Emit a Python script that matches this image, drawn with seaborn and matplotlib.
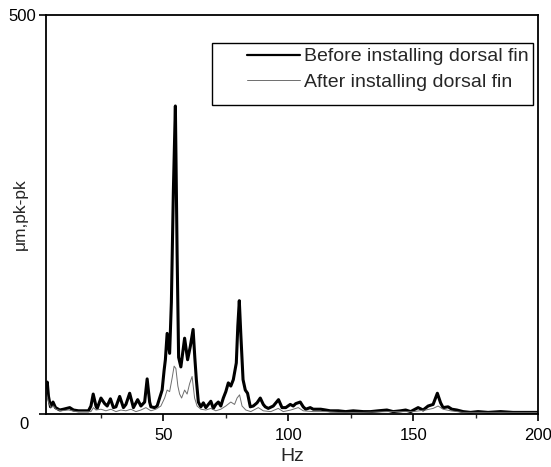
import numpy as np
import pandas as pd
import matplotlib
matplotlib.use("Agg")
import matplotlib.pyplot as plt
import seaborn as sns
from matplotlib.ticker import MultipleLocator
from matplotlib.patches import Rectangle
import matplotlib.transforms as mtransforms

# ---- data ----
freq_before = [3.0, 3.5, 4.0, 4.8, 5.8, 6.8, 8.5, 10, 12.5, 14, 16, 18, 20, 21, 21.9, 23.0, 23.5,
               25, 26.5, 27.5, 28.8, 30, 31, 32.5, 34, 35, 36.5, 38, 39.7, 41, 42.5, 43.5, 44.5,
               45, 46.5, 47.5, 48.5, 49.5, 50.3, 50.8, 51.5, 52.5, 53.2, 54, 54.8, 55.5, 56.1,
               57, 58.5, 59.7, 60.8, 61.9, 62.6, 63.2, 64, 65, 66, 67, 68, 69, 70, 71, 72, 73,
               74, 75, 76, 77, 78, 79.2, 79.8, 80.4, 81.0, 81.9, 82.8, 83.7, 84.8, 86, 87.5,
               88.8, 90, 90.8, 92, 94, 96.1, 97.5, 99, 100.8, 102, 103, 104.8, 106, 107, 108.8,
               110, 113, 115, 116.8, 120, 123, 126, 130, 133, 136, 139.5, 142, 145, 147, 149,
               152, 154, 156, 158, 159.7, 161, 162, 164, 165.5, 167.5, 170, 173, 176, 180, 185,
               190, 195, 200]
amp_before = [34, 40, 22, 9, 15, 8, 5, 6, 8, 5, 4, 4, 4, 10, 25, 10, 7,
              20, 13, 10, 19, 8, 9, 22, 8, 12, 26, 8, 18, 10, 15, 44, 15,
              9, 8, 10, 20, 30, 55, 68, 101, 76, 140, 280, 386, 200, 71,
              59, 95, 68, 85, 106, 70, 43, 15, 9, 14, 8, 12, 16, 7, 12, 15, 10,
              20, 28, 39, 35, 43, 64, 110, 142, 100, 43, 30, 26, 9, 10, 14,
              20, 12, 9, 7, 10, 18, 8, 8, 12, 10, 13, 15, 9, 6, 8,
              6, 6, 5, 4, 4, 3, 4, 3, 3, 4, 5, 3, 4, 5, 3,
              8, 5, 10, 12, 26, 14, 8, 9, 6, 5, 3, 2, 3, 2, 3,
              2, 2, 2]

freq_after = [3, 4, 5, 6, 7, 9, 12, 15, 18, 21, 22, 23, 25, 27, 29, 31, 33, 35, 37, 39, 41, 43,
              45, 47, 49, 50.5, 51.5, 52.5, 53.5, 54.3, 55, 55.8, 56.5, 57.3, 58.5, 59.5, 60.5,
              61.5, 62.5, 63.5, 65, 67, 69, 71, 73, 75, 77, 78.5, 79.5, 80.5, 81.5, 83, 85, 88,
              90, 93, 96, 98, 101, 104, 106, 110, 115, 120, 130, 140, 150, 155, 158, 160, 162,
              165, 170, 180, 190, 200]
amp_after = [28, 15, 8, 10, 6, 4, 5, 3, 3, 3, 8, 5, 6, 4, 6, 3, 5, 4, 6, 3, 5, 8,
             4, 6, 10, 20, 30, 28, 45, 60, 57, 35, 25, 20, 30, 25, 38,
             47, 20, 10, 6, 5, 7, 4, 6, 10, 15, 12, 20, 24, 10, 5, 3, 8,
             4, 3, 7, 3, 5, 8, 4, 3, 3, 2, 2, 3, 3, 5, 7, 10, 6,
             4, 2, 2, 2, 2]

series_labels = ["Before installing dorsal fin", "After installing dorsal fin"]
x_label = "Hz"
y_label = "\u03bcm,pk-pk"

# ---- style ----
sns.set_style("ticks")
plt.rcParams["font.family"] = ["Liberation Sans", "DejaVu Sans"]
plt.rcParams["axes.linewidth"] = 1.3

fig = plt.figure(figsize=(5.51, 4.67), dpi=100)
ax = fig.add_axes([46 / 551, 1 - 414 / 467, (538 - 46) / 551, (414 - 15) / 467])

df_before = pd.DataFrame({"Hz": freq_before, "amp": amp_before})
df_after = pd.DataFrame({"Hz": freq_after, "amp": amp_after})

sns.lineplot(data=df_before, x="Hz", y="amp", ax=ax, color="black", linewidth=2.2,
             label=series_labels[0], sort=True)
sns.lineplot(data=df_after, x="Hz", y="amp", ax=ax, color="#6e6e6e", linewidth=0.7,
             label=series_labels[1], sort=True)

ax.set_xlim(3, 200)
ax.set_ylim(0, 500)
ax.set_xticks([50, 100, 150, 200])
ax.xaxis.set_minor_locator(MultipleLocator(25))
ax.set_yticks([0, 500])
ax.tick_params(axis="both", which="major", direction="out", length=5, width=1.2,
               labelsize=12, colors="black")
ax.tick_params(axis="x", which="minor", direction="out", length=3, width=1.0)
ax.tick_params(axis="x", which="major", pad=5)
ax.tick_params(axis="y", which="major", pad=2)

# the "0" label sits below-left of the axis corner in the reference
for lab in ax.get_yticklabels():
    if lab.get_text() == "0":
        lab.set_transform(lab.get_transform() + mtransforms.ScaledTranslation(-8 / 100, -9 / 100, fig.dpi_scale_trans))

for s in ax.spines.values():
    s.set_visible(True)
    s.set_color("black")

ax.set_xlabel(x_label, fontsize=14, labelpad=4)
ax.set_ylabel(y_label, fontsize=12.5)
ax.yaxis.set_label_coords(-0.036, 0.5)

leg = ax.legend(loc="upper right", bbox_to_anchor=(0.980, 0.918), frameon=False,
                fontsize=14, handlelength=2.7, handletextpad=0.2, borderpad=0.0,
                borderaxespad=0.0, labelspacing=0.4)
leg.get_lines()[0].set_linewidth(1.6)
leg.get_lines()[1].set_linewidth(0.7)
# legend frame (as in the reference, wider on the left)
ax.add_patch(Rectangle((0.3374, 0.7744), 0.9898 - 0.3374, 0.9298 - 0.7744,
                       transform=ax.transAxes, fill=False, edgecolor="black",
                       linewidth=1.0, zorder=5))

fig.savefig("out.png", dpi=100)
